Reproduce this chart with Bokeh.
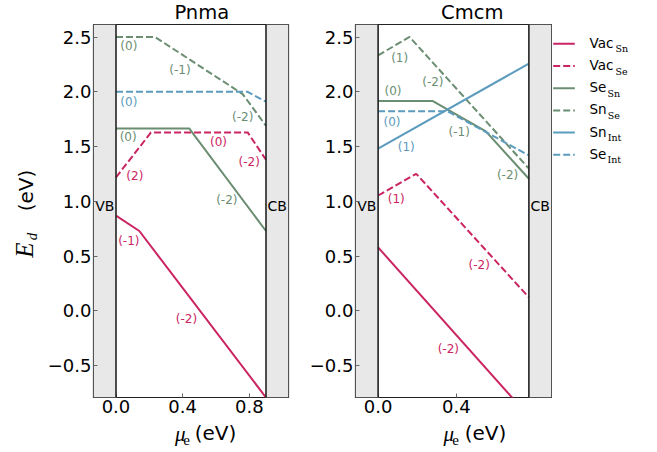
import math
from bokeh.plotting import figure
from bokeh.layouts import row, column
from bokeh.models import Range1d, FixedTicker, Span, ColumnDataSource
from bokeh.core.properties import value
from bokeh.embed import file_html
from bokeh.resources import INLINE

CRIMSON = "#cb2462"
GREEN = "#6b8e72"
BLUE = "#5b9bbd"

# ---------------- data ----------------
y_lo, y_hi = -0.79, 2.615
y_ticks = [-0.5, 0.0, 0.5, 1.0, 1.5, 2.0, 2.5]

pnma_gap = 0.90
pnma_xticks = [0.0, 0.4, 0.8]
pnma_vac_sn_x = [0.0, 0.14, 0.90]
pnma_vac_sn_y = [0.87, 0.73, -0.79]
pnma_vac_se_x = [0.0, 0.21, 0.79, 0.90]
pnma_vac_se_y = [1.22, 1.63, 1.63, 1.38]
pnma_se_sn_x = [0.0, 0.44, 0.90]
pnma_se_sn_y = [1.665, 1.665, 0.73]
pnma_sn_se_x = [0.0, 0.235, 0.76, 0.90]
pnma_sn_se_y = [2.50, 2.50, 1.98, 1.69]
pnma_se_int_x = [0.0, 0.79, 0.90]
pnma_se_int_y = [2.0, 2.0, 1.91]

pnma_lab_x = [0.077, 0.423, 0.113, 0.615, 0.799, 0.073, 0.665, 0.077, 0.384, 0.760, 0.077]
pnma_lab_y = [0.636, -0.073, 1.230, 1.541, 1.358, 1.587, 1.015, 2.416, 2.196, 1.770, 1.907]
pnma_lab_t = ["(-1)", "(-2)", "(2)", "(0)", "(-2)", "(0)", "(-2)", "(0)", "(-1)", "(-2)", "(0)"]
pnma_lab_c = [CRIMSON, CRIMSON, CRIMSON, CRIMSON, CRIMSON, GREEN, GREEN, GREEN, GREEN, GREEN, BLUE]

cmcm_gap = 0.771
cmcm_xticks = [0.0, 0.4]
cmcm_vac_sn_x = [0.0, 0.771]
cmcm_vac_sn_y = [0.58, -0.962]
cmcm_vac_se_x = [0.0, 0.195, 0.771]
cmcm_vac_se_y = [1.054, 1.252, 0.124]
cmcm_se_sn_x = [0.0, 0.28, 0.551, 0.771]
cmcm_se_sn_y = [1.916, 1.916, 1.639, 1.207]
cmcm_sn_se_x = [0.0, 0.161, 0.771]
cmcm_sn_se_y = [2.334, 2.501, 1.30]
cmcm_sn_int_x = [0.0, 0.771]
cmcm_sn_int_y = [1.481, 2.258]
cmcm_se_int_x = [0.0, 0.356, 0.771]
cmcm_se_int_y = [1.822, 1.822, 1.42]

cmcm_lab_x = [0.359, 0.093, 0.517, 0.076, 0.415, 0.662, 0.110, 0.280, 0.144, 0.071]
cmcm_lab_y = [-0.347, 1.024, 0.420, 2.007, 1.633, 1.237, 2.313, 2.090, 1.495, 1.724]
cmcm_lab_t = ["(-2)", "(1)", "(-2)", "(0)", "(-1)", "(-2)", "(1)", "(-2)", "(1)", "(0)"]
cmcm_lab_c = [CRIMSON, CRIMSON, CRIMSON, GREEN, GREEN, GREEN, GREEN, GREEN, BLUE, BLUE]

legend_main = ["Vac", "Vac", "Se", "Sn", "Sn", "Se"]
legend_sub = ["Sn", "Se", "Sn", "Se", "Int", "Int"]
legend_color = [CRIMSON, CRIMSON, GREEN, GREEN, BLUE, BLUE]
legend_dash = ["solid", "7 3", "solid", "7 3", "solid", "7 3"]

# ---------------- layout geometry (page pixels) ----------------
TOTAL_H = 449
TITLE_H = 23
FRAME_W = 197
FRAME_H = 373
PB = 23                      # panel bottom border (tick labels)
PANEL_H = 1 + FRAME_H + PB
XLAB_H = TOTAL_H - TITLE_H - PANEL_H
YLAB_W = 44
DASH = "7 3"
DV = {'V': 0.684, 'a': 0.613, 'c': 0.550, 'S': 0.635, 'e': 0.615, 'n': 0.634}


def blank(w, h, flip=True):
    f = figure(width=w, height=h, output_backend="svg", toolbar_location=None, title=None,
               x_range=Range1d(0, w), y_range=Range1d(h, 0) if flip else Range1d(0, h),
               x_axis_location=None, y_axis_location=None, min_border=0)
    f.grid.visible = False
    f.outline_line_color = None
    f.background_fill_color = "white"
    f.border_fill_color = "white"
    return f


def make_panel(gap, series, lab_x, lab_y, lab_t, lab_c, xticks, width, bl, br):
    xr0, xr1 = -0.15 * gap, 1.15 * gap
    p = figure(width=width, height=PANEL_H, output_backend="svg", toolbar_location=None,
               title=None, x_range=Range1d(xr0, xr1), y_range=Range1d(y_lo, y_hi),
               min_border_left=bl, min_border_right=br, min_border_top=1,
               min_border_bottom=PB)
    p.grid.visible = False
    p.outline_line_color = "#222222"
    p.outline_line_width = 1.2
    p.background_fill_color = "white"
    p.border_fill_color = "white"
    p.quad(left=[xr0, gap], right=[0.0, xr1], bottom=[y_lo, y_lo], top=[y_hi, y_hi],
           fill_color="#e8e8e8", line_color=None)
    for loc in (0.0, gap):
        p.add_layout(Span(location=loc, dimension="height", line_color="#222222",
                          line_width=1.6))
    for xs, ys, col, dash in series:
        p.line(xs, ys, line_color=col, line_width=2, line_dash=dash)
    src = ColumnDataSource(dict(x=lab_x, y=lab_y, t=lab_t, c=lab_c))
    p.text(x="x", y="y", text="t", text_color="c", source=src,
           text_font=value("DejaVu Sans"), text_font_size="12px",
           text_align="center", text_baseline="middle")
    p.text(x=[xr0 / 2, gap + (xr1 - gap) / 2], y=[0.957, 0.957], text=["VB", "CB"],
           text_font=value("DejaVu Sans"), text_font_size="14px", text_color="black",
           text_align="center", text_baseline="middle")
    for ax in (p.xaxis[0], p.yaxis[0]):
        ax.axis_line_color = None
        ax.major_tick_in = 4
        ax.major_tick_out = 0
        ax.minor_tick_line_color = None
        ax.major_tick_line_color = "#666666"
        ax.major_label_text_font = "DejaVu Sans"
        ax.major_label_text_font_size = "18px"
        ax.major_label_text_color = "black"
    p.xaxis.ticker = FixedTicker(ticks=xticks)
    p.xaxis.major_label_overrides = {t: f"{t:.1f}" for t in xticks}
    p.xaxis.major_label_standoff = 2
    p.yaxis.ticker = FixedTicker(ticks=y_ticks)
    p.yaxis.major_label_overrides = {t: f"{t:.1f}".replace("-", "\u2212") for t in y_ticks}
    p.yaxis.major_label_standoff = 2
    return p


def title_fig(w, text, cx_local):
    f = blank(w, TITLE_H)
    f.text(x=[cx_local], y=[11.6], text=[text], text_font=value("DejaVu Sans"),
           text_font_size="19.5px", text_align="center", text_baseline="middle",
           text_color="black")
    return f


def xlab_fig(w, cx_local, top_page):
    f = blank(w, XLAB_H)
    f.text(x=[cx_local - 36], y=[433 - top_page], text=["\u03bc"],
           text_font=value("Liberation Serif"), text_font_style="italic",
           text_font_size="21px", text_baseline="middle", text_color="black")
    f.text(x=[cx_local - 25], y=[439 - top_page], text=["e"],
           text_font=value("Liberation Serif"), text_font_size="15px",
           text_baseline="middle", text_color="black")
    f.text(x=[cx_local - 9.5], y=[432.5 - top_page], text=["(eV)"],
           text_font=value("DejaVu Sans"), text_font_size="20px",
           text_baseline="middle", text_color="black")
    return f


pnma_series = [
    (pnma_vac_sn_x, pnma_vac_sn_y, CRIMSON, "solid"),
    (pnma_vac_se_x, pnma_vac_se_y, CRIMSON, DASH),
    (pnma_se_sn_x, pnma_se_sn_y, GREEN, "solid"),
    (pnma_sn_se_x, pnma_sn_se_y, GREEN, DASH),
    (pnma_se_int_x, pnma_se_int_y, BLUE, DASH),
]
cmcm_series = [
    (cmcm_vac_sn_x, cmcm_vac_sn_y, CRIMSON, "solid"),
    (cmcm_vac_se_x, cmcm_vac_se_y, CRIMSON, DASH),
    (cmcm_se_sn_x, cmcm_se_sn_y, GREEN, "solid"),
    (cmcm_sn_se_x, cmcm_sn_se_y, GREEN, DASH),
    (cmcm_sn_int_x, cmcm_sn_int_y, BLUE, "solid"),
    (cmcm_se_int_x, cmcm_se_int_y, BLUE, DASH),
]

# y-axis label figure (y measured upward from the bottom)
ylab = blank(YLAB_W, TOTAL_H, flip=False)
A = math.pi / 2
ylab.text(x=[23.5], y=[TOTAL_H - 249.5], text=["E"], angle=A,
          text_font=value("Liberation Serif"), text_font_style="italic",
          text_font_size="25px", text_align="center", text_baseline="middle",
          text_color="black")
ylab.text(x=[31], y=[TOTAL_H - 236], text=["d"], angle=A,
          text_font=value("Liberation Serif"), text_font_style="italic",
          text_font_size="15px", text_align="center", text_baseline="middle",
          text_color="black")
ylab.text(x=[25.5], y=[TOTAL_H - 190], text=["(eV)"], angle=A,
          text_font=value("DejaVu Sans"), text_font_size="20px", text_align="center",
          text_baseline="middle", text_color="black")

# panel 1: page x 44..306, frame 91..288
BL1, BR1 = 91 - YLAB_W, 18
W1 = BL1 + FRAME_W + BR1
p1 = make_panel(pnma_gap, pnma_series, pnma_lab_x, pnma_lab_y, pnma_lab_t, pnma_lab_c,
                pnma_xticks, W1, BL1, BR1)
c1 = BL1 + FRAME_W / 2
col1 = column(title_fig(W1, "Pnma", c1), p1, xlab_fig(W1, c1, TITLE_H + PANEL_H), spacing=0)

# panel 2: page x 306..552, frame 354..551
BL2, BR2 = 354 - (YLAB_W + W1), 1
W2 = BL2 + FRAME_W + BR2
p2 = make_panel(cmcm_gap, cmcm_series, cmcm_lab_x, cmcm_lab_y, cmcm_lab_t, cmcm_lab_c,
                cmcm_xticks, W2, BL2, BR2)
c2 = BL2 + FRAME_W / 2
col2 = column(title_fig(W2, "Cmcm", c2), p2, xlab_fig(W2, c2, TITLE_H + PANEL_H), spacing=0)

# legend figure: page x 552..649
LW = 97
p3 = blank(LW, TOTAL_H)
row_y = [43.3 + 22.2 * i for i in range(len(legend_main))]
for i in range(len(legend_main)):
    p3.line([0.7, 22.3], [row_y[i], row_y[i]], line_color=legend_color[i], line_width=2,
            line_dash=legend_dash[i])
main_fs = 13.5
sub_x = [37 + sum(DV[ch] for ch in s) * main_fs + 1 for s in legend_main]
p3.text(x=[37] * len(legend_main), y=[yy - 1 for yy in row_y], text=legend_main,
        text_font=value("DejaVu Sans"), text_font_size=f"{main_fs}px", text_color="black",
        text_baseline="middle")
p3.text(x=sub_x, y=[yy + 5 for yy in row_y], text=legend_sub,
        text_font=value("DejaVu Serif"), text_font_size="9.5px", text_color="black",
        text_baseline="middle")

layout = row(ylab, col1, col2, p3, spacing=0)
open("out.html", "w").write(file_html(layout, INLINE))
